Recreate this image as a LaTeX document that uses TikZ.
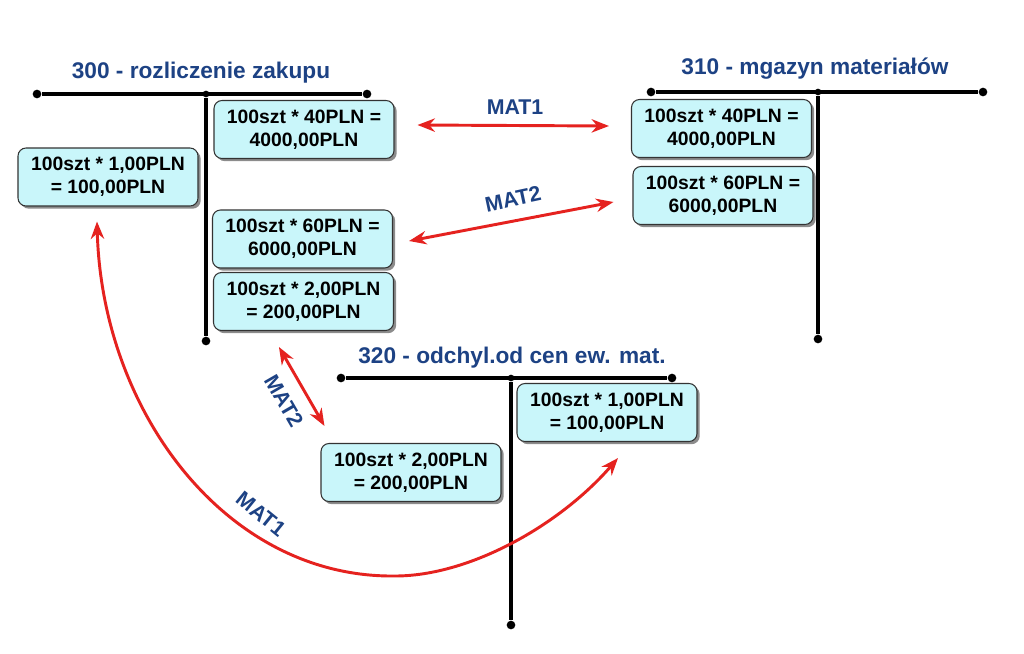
\documentclass[tikz,border=0pt]{standalone}
\usepackage{fontspec}
\setmainfont{Liberation Sans}
\usetikzlibrary{arrows.meta,shadows,calc}
\definecolor{boxfill}{HTML}{C9F6FA}
\definecolor{titleblue}{HTML}{1D4284}
\definecolor{arrred}{HTML}{E5221F}
\begin{document}
\begin{tikzpicture}[x=0.75pt,y=-0.75pt,
 acct/.style={line width=2.6pt, black},
 enddot/.style={circle, fill=black, inner sep=0pt, minimum size=6.5pt},
 entry/.style={draw=black!80, line width=0.8pt, fill=boxfill, rounded corners=6pt,
   minimum width=135pt, minimum height=43.5pt, align=center,
   font=\bfseries\fontsize{14.5}{17}\selectfont, inner sep=2pt,
   drop shadow={shadow xshift=2pt,shadow yshift=-2pt,opacity=.45,fill=black}},
 title/.style={font=\bfseries\fontsize{17}{19}\selectfont, text=titleblue},
 lbl/.style={font=\bfseries\fontsize{16}{19}\selectfont, text=titleblue, inner sep=1pt},
 flow/.style={arrred, line width=2.2pt,
   {Stealth[length=13pt,width=10pt]}-{Stealth[length=13pt,width=10pt]}}
]
\useasboundingbox (0,0) rectangle (1024,653);
\fill[white] (0,0) rectangle (1024,653);

% account 300
\node[enddot] (l300) at (37,94) {};
\node[enddot] (r300) at (367,94) {};
\node[enddot, minimum size=5pt] (j300) at (206,94) {};
\node[enddot] (b300) at (206,341) {};
\draw[acct] (l300) -- (r300);
\draw[acct] (j300) -- (b300);
\node[title] (t300) at (201,73) {300 - rozliczenie zakupu};

% account 310
\node[enddot] (l310) at (651,92) {};
\node[enddot] (r310) at (983,92) {};
\node[enddot, minimum size=5pt] (j310) at (818,92) {};
\node[enddot] (b310) at (818,339) {};
\draw[acct] (l310) -- (r310);
\draw[acct] (j310) -- (b310);
\node[title] (t310) at (815,69) {310 - mgazyn materiałów};

% account 320
\node[enddot] (l320) at (341,378) {};
\node[enddot] (r320) at (672,378) {};
\node[enddot, minimum size=5pt] (j320) at (511,378) {};
\node[enddot] (b320) at (511,625) {};
\draw[acct] (l320) -- (r320);
\draw[acct] (j320) -- (b320);
\node[title] (t320) at (512,358) {320 - odchyl.od cen ew. mat.};

% entries
\node[entry] (A) at (304,129.5) {100szt * 40PLN =\\4000,00PLN};
\node[entry] (B) at (108,177) {100szt * 1,00PLN\\= 100,00PLN};
\node[entry] (C) at (302.5,239) {100szt * 60PLN =\\6000,00PLN};
\node[entry] (D) at (303.5,301.5) {100szt * 2,00PLN\\= 200,00PLN};
\node[entry] (E) at (721.5,128.5) {100szt * 40PLN =\\4000,00PLN};
\node[entry] (F) at (723,195.5) {100szt * 60PLN =\\6000,00PLN};
\node[entry] (G) at (607,412.5) {100szt * 1,00PLN\\= 100,00PLN};
\node[entry] (H) at (411,472.5) {100szt * 2,00PLN\\= 200,00PLN};

% flows
\draw[flow] ($(A.east)+(23,-4.5)$) -- ($(E.west)+(-22,-2.5)$);
\node[lbl] (m1) at (515,107) {MAT1};

\draw[flow] ($(C.east)+(16,2)$) -- ($(F.west)+(-19,6.5)$);
\node[lbl, rotate=12] (m2) at (513,199) {MAT2};

\draw[flow] ($(D.south west)+(66,16)$) -- ($(H.north west)+(4,-17)$);
\node[lbl, rotate=-60] (m3) at (284,401) {MAT2};

\coordinate (bot) at (395,576);
\draw[flow] ($(B.south)+(-11,15)$) .. controls (102,410) and (225,578) .. (bot)
  .. controls (470,576) and (560,525) .. ($(G.south)+(11,16)$);
\node[lbl, rotate=-39] (m4) at (261,514) {MAT1};
\end{tikzpicture}
\end{document}
